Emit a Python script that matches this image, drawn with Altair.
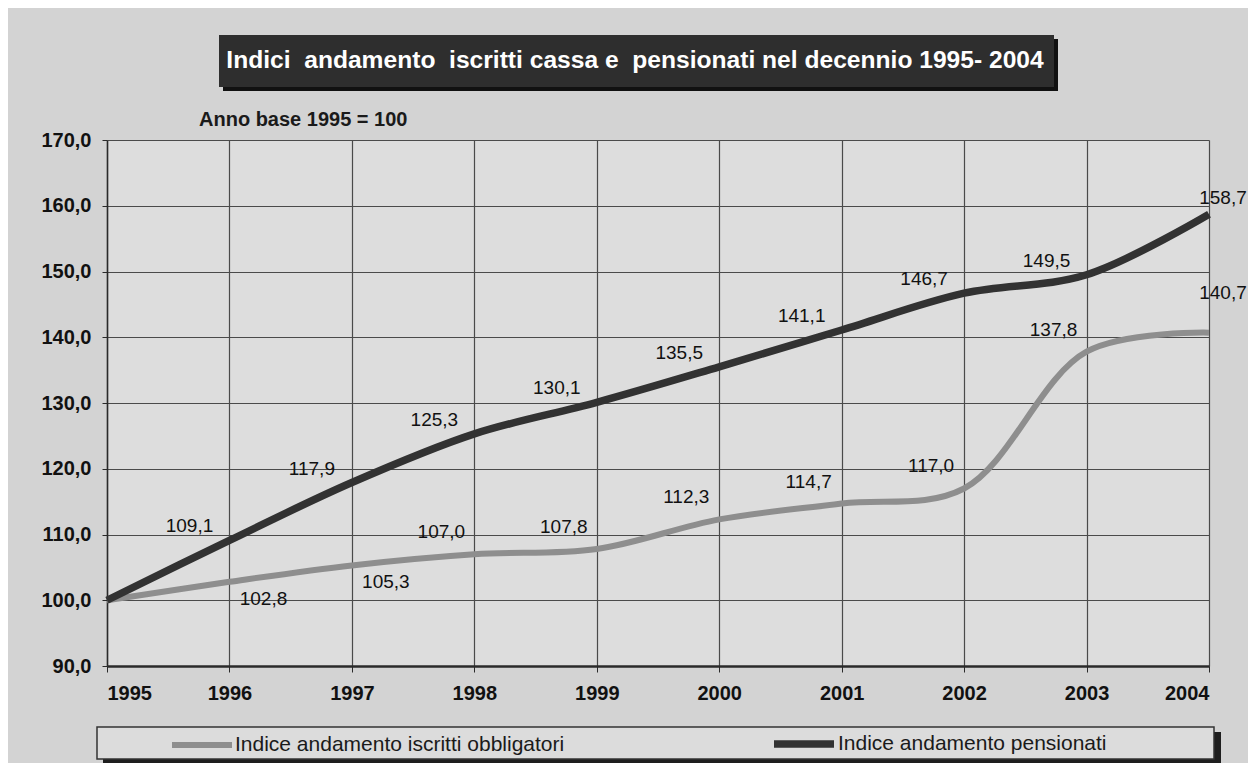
import altair as alt
import pandas as pd

# ---- data ----
years = [1995, 1996, 1997, 1998, 1999, 2000, 2001, 2002, 2003, 2004]
iscritti = [100.0, 102.8, 105.3, 107.0, 107.8, 112.3, 114.7, 117.0, 137.8, 140.7]
pensionati = [100.0, 109.1, 117.9, 125.3, 130.1, 135.5, 141.1, 146.7, 149.5, 158.7]
series_names = ["Indice andamento iscritti obbligatori", "Indice andamento pensionati"]
y_ticks = [90, 100, 110, 120, 130, 140, 150, 160, 170]
title_text = "Indici\u00a0 andamento\u00a0 iscritti cassa e\u00a0 pensionati nel decennio 1995- 2004"
subtitle_text = "Anno base 1995 = 100"

rows = []
for name, vals in zip(series_names, [iscritti, pensionati]):
    for yr, v in zip(years, vals):
        rows.append({"anno": yr, "indice": v, "serie": name})
df = pd.DataFrame(rows)

FONT = "Liberation Sans"
comma = "replace(format(datum.value, '.1f'), '.', ',')"

x_enc = alt.X(
    "anno:Q",
    scale=alt.Scale(domain=[1995, 2004], nice=False, zero=False),
    axis=alt.Axis(values=years, format="d", title=None, grid=True,
                  tickSize=6, labelPadding=11, domainWidth=2.5),
)
y_enc = alt.Y(
    "indice:Q",
    scale=alt.Scale(domain=[90, 170], nice=False, zero=False),
    axis=alt.Axis(values=y_ticks, title=None, grid=True, labelExpr=comma,
                  tickSize=5, labelPadding=11, domainWidth=1.5),
)
color_enc = alt.Color(
    "serie:N",
    scale=alt.Scale(domain=series_names, range=["#8e8e8e", "#323232"]),
    legend=alt.Legend(
        orient="none", legendX=62, legendY=570, direction="horizontal",
        title=None, symbolType="stroke", symbolSize=3600, symbolStrokeWidth=6,
        labelFontSize=21, labelColor="#1a1a1a", labelLimit=600, labelFont=FONT,
        columnPadding=194, padding=0, labelOffset=0,
    ),
)

one = alt.Data(values=[{"k": 0}])

# decorations: title box and legend box with shadows
title_shadow = alt.Chart(one).mark_rect(fill="#111111").encode(
    x=alt.value(116), x2=alt.value(951), y=alt.value(-101), y2=alt.value(-49))
title_box = alt.Chart(one).mark_rect(fill="#2e2e2e").encode(
    x=alt.value(112), x2=alt.value(947), y=alt.value(-105), y2=alt.value(-53))
title_txt = alt.Chart(one).mark_text(
    text=title_text, font=FONT, fontSize=24.6, fontWeight="bold", color="#ffffff",
    align="center", baseline="alphabetic").encode(x=alt.value(528), y=alt.value(-72))
sub_txt = alt.Chart(one).mark_text(
    text=subtitle_text, font=FONT, fontSize=20, fontWeight="bold", color="#1a1a1a",
    align="left", baseline="alphabetic").encode(x=alt.value(92), y=alt.value(-14))
legend_shadow = alt.Chart(one).mark_rect(fill="#1e1e1e").encode(
    x=alt.value(-4), x2=alt.value(1114), y=alt.value(592), y2=alt.value(623))
legend_box = alt.Chart(one).mark_rect(fill="#dcdcdc", stroke="#333333", strokeWidth=1.5).encode(
    x=alt.value(-10), x2=alt.value(1107), y=alt.value(587), y2=alt.value(619))

lines = alt.Chart(df).mark_line(interpolate="catmull-rom", strokeCap="butt").encode(
    x=x_enc, y=y_enc, color=color_enc,
    strokeWidth=alt.StrokeWidth("serie:N", scale=alt.Scale(domain=series_names, range=[6, 7.5]), legend=None),
)

lab_base = alt.Chart(df).transform_filter("datum.anno > 1995").transform_calculate(
    etichetta="replace(format(datum.indice, '.1f'), '.', ',')")


def lab_layer(cond, dx, dy):
    return lab_base.transform_filter(cond).mark_text(
        dx=dx, dy=dy, font=FONT, fontSize=19, color="#111111",
        align="center", baseline="middle",
    ).encode(x=x_enc, y=y_enc, text="etichetta:N")


P = "datum.serie == '%s'" % series_names[1]
I = "datum.serie == '%s'" % series_names[0]
labels = [
    lab_layer(P + " && datum.anno < 2004", -40, -14),
    lab_layer(P + " && datum.anno == 2004", 14, -16),
    lab_layer(I + " && datum.anno <= 1997", 34, 17),
    lab_layer(I + " && datum.anno >= 1998 && datum.anno < 2004", -33, -22),
    lab_layer(I + " && datum.anno == 2004", 14, -40),
]

chart = alt.layer(
    title_shadow, title_box, title_txt, sub_txt, legend_shadow, legend_box,
    lines, *labels,
).properties(
    width=1102, height=526,
    padding={"left": 99, "top": 132, "right": 39, "bottom": 97},
    autosize=alt.AutoSizeParams(type="none"),
).configure(
    background="#d3d3d3", font=FONT,
).configure_view(
    fill="#dddddd", strokeWidth=0,
).configure_axis(
    gridColor="#4a4a4a", gridWidth=1.2, domainColor="#2a2a2a", tickColor="#2a2a2a",
    labelFont=FONT, labelFontSize=20, labelFontWeight="bold", labelColor="#111111",
)

chart.save("out.html", embed_options={"renderer": "svg", "actions": False})
